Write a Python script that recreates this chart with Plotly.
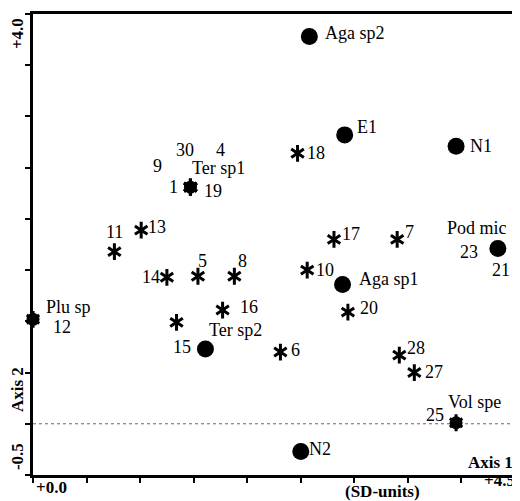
import plotly.graph_objects as go

# ---- data ----
species_names = ["Aga sp2", "E1", "N1", "Pod mic", "Aga sp1", "Ter sp2", "N2",
                 "Ter sp1", "Plu sp", "Vol spe"]
species_x = [2.58, 2.91, 3.95, 4.34, 2.89, 1.61, 2.50, 1.47, 0.00, 3.95]
species_y = [3.78, 2.82, 2.71, 1.71, 1.36, 0.73, -0.27, 2.31, 1.02, 0.01]

sample_labels = ["18", "17", "7", "13", "11", "14", "5", "8", "16", "15", "10",
                 "20", "6", "28", "27", "1", "19", "30", "4", "9", "12", "25", "23", "21"]
sample_x = [2.47, 2.81, 3.40, 1.01, 0.76, 1.25, 1.54, 1.88, 1.77, 1.34, 2.56,
            2.94, 2.31, 3.42, 3.56, 1.47, 1.47, 1.47, 1.47, 1.47, 0.00, 3.95, 4.34, 4.34]
sample_y = [2.64, 1.80, 1.80, 1.89, 1.68, 1.43, 1.44, 1.44, 1.11, 0.99, 1.50,
            1.09, 0.70, 0.67, 0.50, 2.31, 2.31, 2.31, 2.31, 2.31, 1.02, 0.01, 1.71, 1.71]
hidden_samples = ["23", "21"]          # completely covered by the Pod mic dot
shared_species = ["Ter sp1", "Plu sp", "Vol spe"]   # dots with an asterisk on top

x_range = [0.0, 4.5]
y_range = [-0.5, 4.0]
tick_step = 0.5
x_end_labels = ["+0.0", "+4.5"]
y_end_labels = ["-0.5", "+4.0"]

# ---- label placement (pixel offsets, anchor) ----
species_label_style = {
    "Aga sp2": ("left", 14, 4), "E1": ("left", 10, 8), "N1": ("left", 12, 0),
    "Pod mic": ("center", -21, 21), "Aga sp1": ("left", 14, 5),
    "Ter sp2": ("left", 2, 19), "N2": ("left", 6, 2), "Ter sp1": ("left", 0, 19),
    "Plu sp": ("left", 11, 12), "Vol spe": ("center", 18, 21),
}
sample_label_style = {
    "18": ("left", 7, 0), "17": ("left", 6, 5), "7": ("left", 6, 7),
    "13": ("left", 5, 3), "11": ("center", 0, 20), "14": ("right", -5, 0),
    "5": ("center", 5, 15), "8": ("center", 8, 15), "16": ("left", 15, 3),
    "15": ("center", 5, -25), "10": ("left", 7, 0), "20": ("left", 10, 4),
    "6": ("left", 9, 2), "28": ("left", 6, 7), "27": ("left", 9, 1),
    "1": ("center", -17, 0), "19": ("left", 12, -4), "30": ("center", -5, 37),
    "4": ("center", 30, 37), "9": ("center", -33, 21), "12": ("left", 18, -8),
    "25": ("center", -21, 8), "23": ("center", -29, -3), "21": ("center", 3, -21),
}

FONT = "Liberation Serif, Times New Roman, Times, serif"
LABEL_SIZE = 18
FRAME_SIZE = 17
PAGE_OFF = 8                 # default body margin of the html page
W, H = 512, 493
ML, MR, MT, MB = 25, 2, 6, 26
PW, PH = W - ML - MR, H - MT - MB

fig = go.Figure()

vis_x = [x for x, l in zip(sample_x, sample_labels) if l not in hidden_samples]
vis_y = [y for y, l in zip(sample_y, sample_labels) if l not in hidden_samples]
solo_x = [x for x, n in zip(species_x, species_names) if n not in shared_species]
solo_y = [y for y, n in zip(species_y, species_names) if n not in shared_species]
shar_x = [x for x, n in zip(species_x, species_names) if n in shared_species]
shar_y = [y for y, n in zip(species_y, species_names) if n in shared_species]

fig.add_trace(go.Scatter(x=solo_x, y=solo_y, mode="markers",
                         marker=dict(symbol="circle", size=17, color="black",
                                     line=dict(width=0)),
                         hoverinfo="skip", cliponaxis=False))
fig.add_trace(go.Scatter(x=shar_x, y=shar_y, mode="markers",
                         marker=dict(symbol="circle", size=13, color="black",
                                     line=dict(width=0)),
                         hoverinfo="skip", cliponaxis=False))
for sym in ["y-up-open", "y-down-open"]:
    fig.add_trace(go.Scatter(x=vis_x, y=vis_y, mode="markers",
                             marker=dict(symbol=sym, size=10.5, color="black",
                                         line=dict(width=3, color="black")),
                             hoverinfo="skip", cliponaxis=False))

annotations = []
for name, x, y in zip(species_names, species_x, species_y):
    anc, dx, dy = species_label_style[name]
    annotations.append(dict(x=x, y=y, text=name, showarrow=False, xanchor=anc,
                            yanchor="middle", xshift=dx, yshift=dy,
                            font=dict(family=FONT, size=LABEL_SIZE, color="black")))
for lab, x, y in zip(sample_labels, sample_x, sample_y):
    anc, dx, dy = sample_label_style[lab]
    annotations.append(dict(x=x, y=y, text=lab, showarrow=False, xanchor=anc,
                            yanchor="middle", xshift=dx, yshift=dy,
                            font=dict(family=FONT, size=LABEL_SIZE, color="black")))


def px_to_paper(px, py):
    # px, py are screen pixels of the final picture
    fx, fy = px - PAGE_OFF, py - PAGE_OFF
    return (fx - ML) / PW, (H - MB - fy) / PH


def frame_text(text, px, py, angle=0, anchor="center"):
    x, y = px_to_paper(px, py)
    annotations.append(dict(x=x, y=y, xref="paper", yref="paper", text=text,
                            showarrow=False, textangle=angle, xanchor=anchor,
                            yanchor="middle", borderpad=0,
                            font=dict(family=FONT, size=FRAME_SIZE, color="black",
                                      weight="bold")))


frame_text(y_end_labels[1], 17, 34, -90)
frame_text(y_end_labels[0], 17, 457, -90)
frame_text("Axis 2", 17, 390, -90)
frame_text(x_end_labels[0], 35, 487, anchor="left")
frame_text(x_end_labels[1], 519, 480, anchor="right")
frame_text("(SD-units)", 385, 491)
frame_text("Axis 1", 517, 462, anchor="right")

ticks = [x_range[0] + i * tick_step for i in range(int(round((x_range[1] - x_range[0]) / tick_step)) + 1)]
yticks = [y_range[0] + i * tick_step for i in range(int(round((y_range[1] - y_range[0]) / tick_step)) + 1)]

fig.update_layout(
    width=W, height=H, margin=dict(l=ML, r=MR, t=MT, b=MB),
    paper_bgcolor="white", plot_bgcolor="white", showlegend=False,
    annotations=annotations,
    shapes=[dict(type="line", xref="paper", yref="y", x0=0, x1=1, y0=0, y1=0,
                 line=dict(color="#666666", width=1, dash="dot"), layer="below")],
    xaxis=dict(range=x_range, tickvals=ticks, showticklabels=False, ticks="outside",
               ticklen=5, tickwidth=2, tickcolor="black", showline=True,
               linewidth=3, linecolor="black", mirror=True, showgrid=False,
               zeroline=False, fixedrange=True),
    yaxis=dict(range=y_range, tickvals=yticks, showticklabels=False, ticks="outside",
               ticklen=5, tickwidth=2, tickcolor="black", showline=True,
               linewidth=3, linecolor="black", mirror=True, showgrid=False,
               zeroline=False, fixedrange=True),
)

fig.write_html("out.html")
